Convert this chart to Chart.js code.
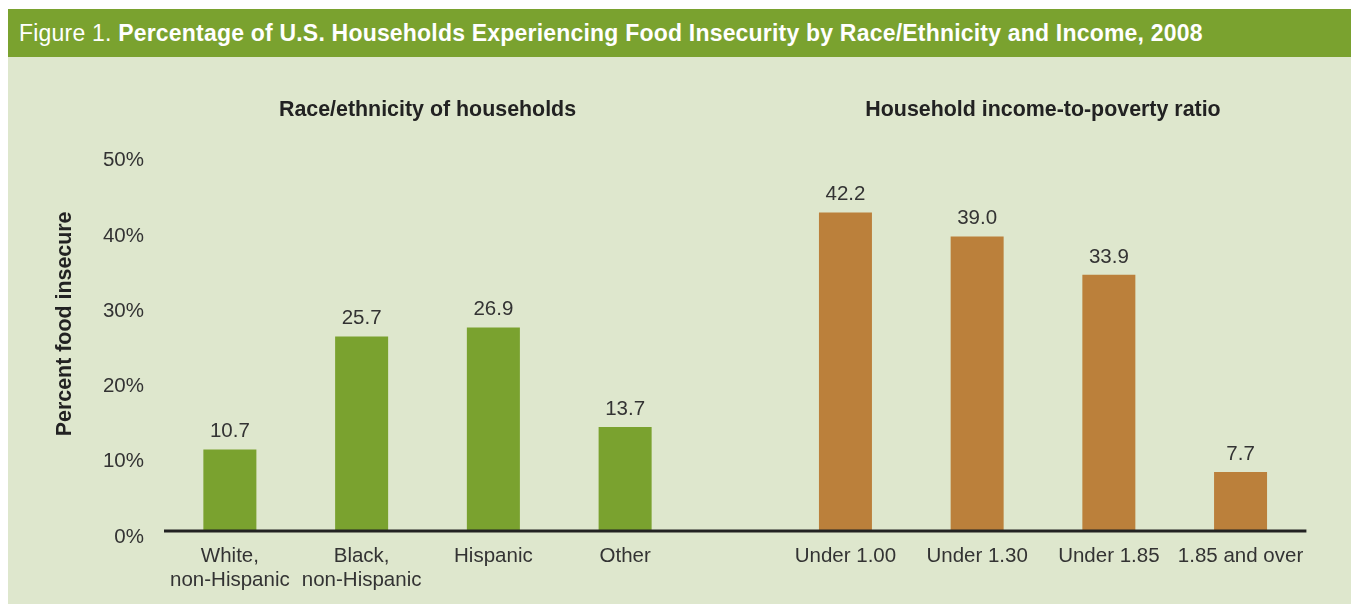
<!DOCTYPE html>
<html>
<head>
<meta charset="utf-8">
<script src="https://cdn.jsdelivr.net/npm/chart.js@4"></script>
<style>
  html, body { margin: 0; padding: 0; background: #ffffff; width: 1351px; height: 604px; overflow: hidden; }
  #titlebar { position: absolute; left: 8px; top: 9px; width: 1343px; height: 48px; background: #7aa22f;
    color: #ffffff; font-family: "Liberation Sans", Arial, sans-serif; font-size: 23px; line-height: 48px;
    letter-spacing: 0.2px; box-sizing: border-box; padding-left: 11px; white-space: nowrap; }
  #titlebar .lead { font-weight: normal; }
  #titlebar .main { font-weight: bold; }
  #panel { position: absolute; left: 8px; top: 57px; width: 1343px; height: 547px; background: #dee7cd; }
  #leftBox { position: absolute; left: 0px; top: 57px; width: 735px; height: 547px; }
  #rightBox { position: absolute; left: 735px; top: 57px; width: 616px; height: 547px; }
</style>
</head>
<body>
<div id="titlebar"><span class="lead">Figure 1. </span><span class="main">Percentage of U.S. Households Experiencing Food Insecurity by Race/Ethnicity and Income, 2008</span></div>
<div id="panel"></div>
<div id="leftBox"><canvas id="leftChart"></canvas></div>
<div id="rightBox"><canvas id="rightChart"></canvas></div>
<script>
// ---- Data ----
const raceCategories = [["White,", "non-Hispanic"], ["Black,", "non-Hispanic"], "Hispanic", "Other"];
const raceValues = [10.7, 25.7, 26.9, 13.7];
const incomeCategories = ["Under 1.00", "Under 1.30", "Under 1.85", "1.85 and over"];
const incomeValues = [42.2, 39.0, 33.9, 7.7];
const yTickValues = [0, 10, 20, 30, 40, 50];
const raceTitle = "Race/ethnicity of households";
const incomeTitle = "Household income-to-poverty ratio";
const yAxisTitle = "Percent food insecure";

const FONT = '"Liberation Sans", Arial, sans-serif';
const TEXT = '#333333';
const GREEN = '#7aa22f';
const ORANGE = '#bb803b';

// value labels above bars
const valueLabels = {
  id: 'valueLabels',
  afterDatasetsDraw(chart) {
    const ctx = chart.ctx;
    ctx.save();
    ctx.font = '20.5px ' + FONT;
    ctx.fillStyle = TEXT;
    ctx.textAlign = 'center';
    ctx.textBaseline = 'middle';
    chart.getDatasetMeta(0).data.forEach((bar, i) => {
      const v = chart.data.datasets[0].data[i];
      ctx.fillText(v.toFixed(1), bar.x, bar.y - 18);
    });
    ctx.restore();
  }
};

// baseline (x axis line) that continues across the gap between the two panels
function baselinePlugin(extendRight) {
  return {
    id: 'baseline',
    afterDatasetsDraw(chart) {
      const ctx = chart.ctx;
      const y = chart.scales.y.getPixelForValue(0) + 1;
      const x0 = extendRight ? chart.chartArea.left : 0;
      const x1 = extendRight ? chart.width : chart.chartArea.right;
      ctx.save();
      ctx.strokeStyle = '#222222';
      ctx.lineWidth = 3;
      ctx.beginPath();
      ctx.moveTo(x0, y);
      ctx.lineTo(x1, y);
      ctx.stroke();
      ctx.restore();
    }
  };
}

// rotated y axis title
const yTitlePlugin = {
  id: 'yTitle',
  afterDraw(chart) {
    const ctx = chart.ctx;
    const a = chart.chartArea;
    ctx.save();
    ctx.translate(a.left - 99, (a.top + a.bottom) / 2 - 18);
    ctx.rotate(-Math.PI / 2);
    ctx.font = 'bold 21.4px ' + FONT;
    ctx.fillStyle = '#222222';
    ctx.textAlign = 'center';
    ctx.textBaseline = 'middle';
    ctx.fillText(yAxisTitle, 0, 0);
    ctx.restore();
  }
};

function makeOptions(titleText, showY, padLeft, padRight) {
  return {
    responsive: true,
    maintainAspectRatio: false,
    animation: false,
    devicePixelRatio: 1,
    layout: { padding: { left: padLeft, right: padRight, top: 0, bottom: 0 } },
    plugins: {
      legend: { display: false },
      tooltip: { enabled: false },
      title: {
        display: true,
        text: titleText,
        fullSize: false,
        color: '#222222',
        font: { family: FONT, size: 21.4, weight: 'bold', lineHeight: 1.2 },
        padding: { top: 40, bottom: 31 }
      }
    },
    scales: {
      x: {
        grid: { display: false },
        border: { display: false },
        ticks: { color: TEXT, font: { family: FONT, size: 20.5, lineHeight: 1.17 }, padding: 6, maxRotation: 0, autoSkip: false },
        afterFit(scale) { scale.height = 74; }
      },
      y: {
        display: showY,
        min: 0,
        max: 50,
        grid: { display: false },
        border: { display: false },
        afterBuildTicks(scale) { scale.ticks = yTickValues.map(v => ({ value: v })); },
        ticks: {
          color: TEXT,
          font: { family: FONT, size: 20.5 },
          padding: 12,
          labelOffset: 7,
          callback: v => v + '%'
        },
        afterFit(scale) { if (showY) scale.width = 164; }
      }
    }
  };
}

Chart.defaults.font.family = FONT;

new Chart(document.getElementById('leftChart'), {
  type: 'bar',
  data: {
    labels: raceCategories,
    datasets: [{ data: raceValues, backgroundColor: GREEN, barPercentage: 0.8, categoryPercentage: 0.503 }]
  },
  options: makeOptions(raceTitle, true, 0, 44),
  plugins: [valueLabels, baselinePlugin(true), yTitlePlugin]
});

new Chart(document.getElementById('rightChart'), {
  type: 'bar',
  data: {
    labels: incomeCategories,
    datasets: [{ data: incomeValues, backgroundColor: ORANGE, barPercentage: 0.8, categoryPercentage: 0.503 }]
  },
  options: makeOptions(incomeTitle, false, 44.6, 44.6),
  plugins: [valueLabels, baselinePlugin(false)]
});
</script>
</body>
</html>
